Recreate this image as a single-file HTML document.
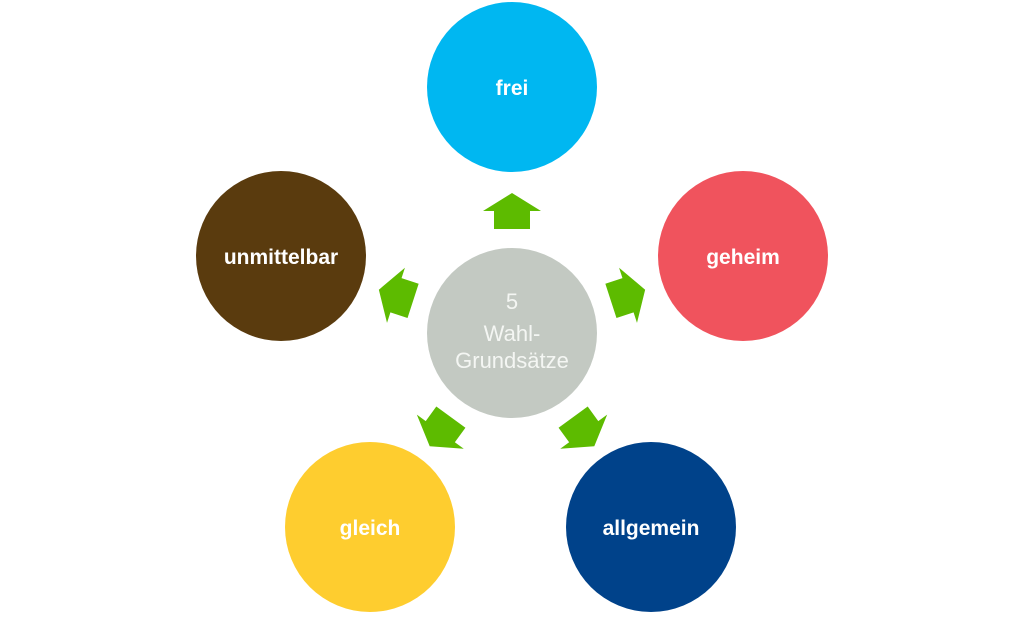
<!DOCTYPE html>
<html><head><meta charset="utf-8"><style>
html,body{margin:0;padding:0;background:#fff;}
svg{display:block;}
text{font-family:"Liberation Sans",sans-serif;font-size:21px;font-weight:bold;fill:#fff;text-anchor:middle;}
text.c{font-weight:normal;font-size:22px;fill:#f4f6f3;}
</style></head><body>
<svg width="1024" height="618" viewBox="0 0 1024 618">
<circle cx="512" cy="87" r="85" fill="#00b7f1"/>
<circle cx="743" cy="256" r="85" fill="#f0535d"/>
<circle cx="651" cy="527" r="85" fill="#00428a"/>
<circle cx="370" cy="527" r="85" fill="#fecd2f"/>
<circle cx="281" cy="256" r="85" fill="#5a3b0e"/>
<circle cx="512" cy="333" r="85" fill="#c3c9c2"/>
<g fill="#5dbb00">
<polygon id="a" points="512,193 541,211 530,211 530,229 494,229 494,211 483,211"/>
<use href="#a" transform="rotate(72 512 333)"/>
<use href="#a" transform="rotate(144 512 333)"/>
<use href="#a" transform="rotate(216 512 333)"/>
<use href="#a" transform="rotate(288 512 333)"/>
</g>
<text x="512" y="95">frei</text>
<text x="743" y="264">geheim</text>
<text x="651" y="535">allgemein</text>
<text x="370" y="535">gleich</text>
<text x="281" y="264">unmittelbar</text>
<text class="c" x="512" y="309">5</text>
<text class="c" x="512" y="341">Wahl-</text>
<text class="c" x="512" y="368">Grundsätze</text>
</svg>
</body></html>
